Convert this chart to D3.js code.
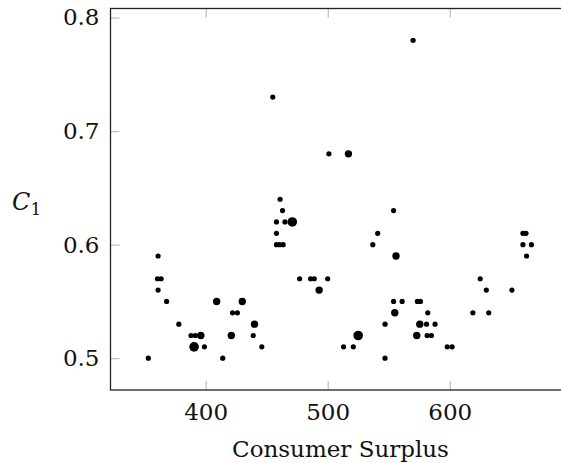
<!DOCTYPE html>
<html>
<head>
<meta charset="utf-8">
<script src="https://cdn.jsdelivr.net/npm/d3@7"></script>
<style>
  body { margin: 0; background: #fff; }
</style>
</head>
<body>
<div id="chart"></div>
<script>
// consumer surplus (x), C1 (y) and marker weight (1 small, 2 medium, 3 large)
const surplus = [353, 360.5, 363.5, 361, 361, 368, 378, 388, 391.5, 396, 390.5, 399,
  409, 414, 421, 422, 426, 430, 440, 439, 446, 455, 458, 458, 461, 463, 465, 471,
  458, 460.5, 463.5, 477, 486, 489, 493, 500, 501, 517, 513, 521, 525, 537, 541,
  547, 547, 554, 556, 554, 561, 555, 570, 573.5, 576, 573, 575.5, 581, 588, 582,
  581.5, 585, 598, 602, 619, 625, 630, 632, 651, 660, 662.5, 660, 667, 663];
const c1 = [0.50, 0.57, 0.57, 0.59, 0.56, 0.55, 0.53, 0.52, 0.52, 0.52, 0.51, 0.51,
  0.55, 0.50, 0.52, 0.54, 0.54, 0.55, 0.53, 0.52, 0.51, 0.73, 0.61, 0.62, 0.64, 0.63, 0.62, 0.62,
  0.60, 0.60, 0.60, 0.57, 0.57, 0.57, 0.56, 0.57, 0.68, 0.68, 0.51, 0.51, 0.52, 0.60, 0.61,
  0.53, 0.50, 0.63, 0.59, 0.55, 0.55, 0.54, 0.78, 0.55, 0.55, 0.52, 0.53, 0.53, 0.53, 0.54,
  0.52, 0.52, 0.51, 0.51, 0.54, 0.57, 0.56, 0.54, 0.56, 0.61, 0.61, 0.60, 0.60, 0.59];
const weight = [1, 1, 1, 1, 1, 1, 1, 1, 1, 2, 3, 1,
  2, 1, 2, 1, 1, 2, 2, 1, 1, 1, 1, 1, 1, 1, 1, 3,
  1, 1, 1, 1, 1, 1, 2, 1, 1, 2, 1, 1, 3, 1, 1,
  1, 1, 1, 2, 1, 1, 2, 1, 1, 1, 2, 2, 1, 1, 1,
  1, 1, 1, 1, 1, 1, 1, 1, 1, 1, 1, 1, 1, 1];

const xTicks = [400, 500, 600];
const yTicks = [0.5, 0.6, 0.7, 0.8];
const xLabel = "Consumer Surplus";

const width = 561, height = 463;
const serif = "DejaVu Serif";

const svg = d3.select("#chart").append("svg")
  .attr("width", width)
  .attr("height", height);

const x = d3.scaleLinear().domain([322, 699]).range([110.5, 570.5]);
const y = d3.scaleLinear().domain([0.472, 0.808]).range([390, 8.5]);
const r = d3.scaleOrdinal().domain([1, 2, 3]).range([2.6, 3.7, 4.8]);

const tickLen = 9;

// axes, ticks point inward on every side
const axBottom = svg.append("g").attr("transform", `translate(0,${y.range()[0]})`)
  .call(d3.axisBottom(x).tickValues(xTicks).tickSizeInner(-tickLen).tickSizeOuter(0).tickPadding(14));
const axTop = svg.append("g").attr("transform", `translate(0,${y.range()[1]})`)
  .call(d3.axisTop(x).tickValues(xTicks).tickSizeInner(-tickLen).tickSizeOuter(0).tickFormat(""));
const axLeft = svg.append("g").attr("transform", `translate(${x.range()[0]},0)`)
  .call(d3.axisLeft(y).tickValues(yTicks).tickSizeInner(-tickLen).tickSizeOuter(0).tickPadding(11)
    .tickFormat(d3.format(".1f")));
const axRight = svg.append("g").attr("transform", `translate(${x.range()[1]},0)`)
  .call(d3.axisRight(y).tickValues(yTicks).tickSizeInner(-tickLen).tickSizeOuter(0).tickFormat(""));

[axBottom, axTop, axLeft, axRight].forEach(g => {
  g.attr("font-family", serif);
  g.select(".domain").remove();
  g.selectAll(".tick line").attr("stroke", "#b0b0b0").attr("stroke-width", 1);
  g.selectAll(".tick text").attr("font-size", 23).attr("fill", "#111");
});

// frame
svg.append("rect")
  .attr("x", x.range()[0])
  .attr("y", y.range()[1])
  .attr("width", x.range()[1] - x.range()[0])
  .attr("height", y.range()[0] - y.range()[1])
  .attr("fill", "none")
  .attr("stroke", "#222")
  .attr("stroke-width", 1.3);

// points
svg.append("g").selectAll("circle")
  .data(surplus.map((s, i) => ({s: s, c: c1[i], w: weight[i]})))
  .join("circle")
  .attr("cx", d => x(d.s))
  .attr("cy", d => y(d.c))
  .attr("r", d => r(d.w))
  .attr("fill", "#000");

// axis labels
svg.append("text")
  .attr("x", (x.range()[0] + x.range()[1]) / 2)
  .attr("y", 457)
  .attr("text-anchor", "middle")
  .attr("font-family", serif)
  .attr("font-size", 23)
  .attr("fill", "#111")
  .text(xLabel);

const yl = svg.append("text")
  .attr("x", 12)
  .attr("y", 210)
  .attr("font-family", serif)
  .attr("font-size", 24)
  .attr("fill", "#111");
yl.append("tspan").attr("font-style", "italic").text("C");
yl.append("tspan").attr("font-size", 17).attr("dy", 5).text("1");
</script>
</body>
</html>
